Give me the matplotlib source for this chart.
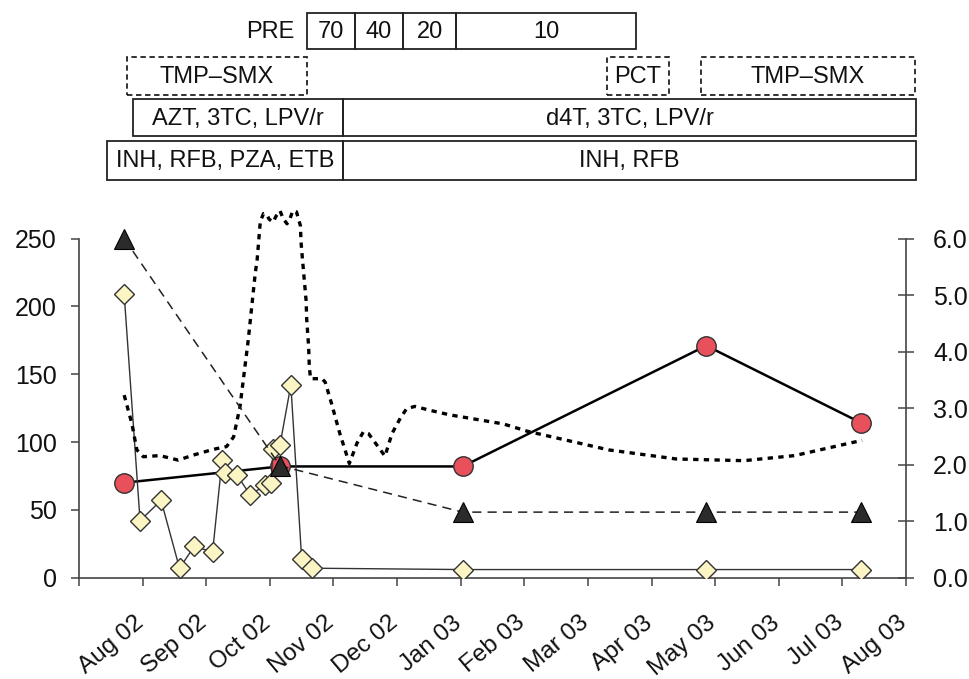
import matplotlib
matplotlib.use("Agg")
import matplotlib.pyplot as plt
from matplotlib.patches import Rectangle
from matplotlib.transforms import ScaledTranslation

plt.rcParams['font.family'] = ['Liberation Sans', 'DejaVu Sans']

W, H = 969, 679

# x positions are in months counted from 1 Jul 2002 (tick 0)
month_labels = ["Aug 02", "Sep 02", "Oct 02", "Nov 02", "Dec 02", "Jan 03", "Feb 03",
                "Mar 03", "Apr 03", "May 03", "Jun 03", "Jul 03", "Aug 03"]

# red circles, left axis
circle_x = [0.71, 3.16, 6.03, 9.86, 12.30]
circle_y = [70, 82, 82, 171, 114]

# black triangles, right axis
tri_x = [0.71, 3.16, 6.03, 9.86, 12.30]
tri_y = [6.0, 1.98, 1.16, 1.16, 1.16]

# yellow diamonds, left axis
dia_x = [0.71, 0.96, 1.29, 1.58, 1.81, 2.10, 2.25, 2.29, 2.48, 2.69, 2.92, 3.02,
         3.05, 3.16, 3.33, 3.50, 3.67, 6.03, 9.86, 12.30]
dia_y = [209, 42, 57, 7, 23, 19, 87, 77, 76, 61, 68, 70,
         95, 98, 142, 14, 7, 6, 6, 6]

# dotted curve, right axis
dot_x = [0.71, 0.83, 0.91, 1.01, 1.27, 1.56, 1.80, 2.11, 2.32, 2.43, 2.53, 2.66,
         2.77, 2.80, 2.85, 2.90, 2.95, 2.99, 3.05, 3.10, 3.16, 3.21, 3.27, 3.32,
         3.36, 3.42, 3.45, 3.48, 3.49, 3.51, 3.57, 3.58, 3.61, 3.62, 3.64, 3.71,
         3.82, 3.87, 3.97, 4.10, 4.25, 4.37, 4.47, 4.55, 4.68, 4.81, 4.92, 5.05,
         5.15, 5.28, 5.52, 5.83, 6.25, 6.67, 7.05, 8.33, 9.39, 10.45, 11.25, 12.31]
dot_y = [3.23, 2.73, 2.26, 2.14, 2.16, 2.08, 2.17, 2.27, 2.32, 2.49, 3.02, 4.20,
         5.38, 5.62, 6.30, 6.44, 6.42, 6.34, 6.29, 6.40, 6.49, 6.35, 6.26, 6.36,
         6.49, 6.47, 6.34, 6.23, 5.94, 5.67, 4.90, 4.56, 4.08, 3.73, 3.52, 3.52,
         3.52, 3.46, 3.08, 2.55, 2.02, 2.38, 2.58, 2.55, 2.35, 2.15, 2.55, 2.82,
         2.99, 3.03, 2.96, 2.88, 2.80, 2.72, 2.59, 2.26, 2.10, 2.07, 2.16, 2.43]

# treatment bars above the chart
pre_label = "PRE"
pre_doses = ["70", "40", "20", "10"]
dashed_drugs = ["TMP–SMX", "PCT", "TMP–SMX"]
art_drugs = ["AZT, 3TC, LPV/r", "d4T, 3TC, LPV/r"]
tb_drugs = ["INH, RFB, PZA, ETB", "INH, RFB"]

fig = plt.figure(figsize=(W / 100, H / 100), dpi=100)
ax = fig.add_axes([79 / W, 1 - 577.7 / H, 827 / W, 339.2 / H])
ax2 = ax.twinx()

ax.plot(circle_x, circle_y, '-', color='black', lw=1.8, marker='o', ms=14,
        mfc='#E8505B', mec='#333333', mew=1.0, zorder=3)
ax.plot(dia_x, dia_y, '-', color='#333333', lw=1.0, marker='D', ms=10,
        mfc='#FAF5C3', mec='#333333', mew=1.0, zorder=4)
ax2.plot(dot_x, dot_y, color='black', lw=2.4, linestyle=(0, (1.6, 1.6)),
         clip_on=False, zorder=2)
ax2.plot(tri_x, tri_y, color='#222222', lw=1.1, linestyle=(0, (6, 4)),
         marker='^', ms=14, mfc='#2b2b2b', mec='black', mew=0.8, zorder=3,
         clip_on=False)

ax.set_xlim(0, 13)
ax.set_ylim(0, 250)
ax2.set_ylim(0, 6)
ax.set_xticks(range(14))
ax.set_xticklabels([""] + month_labels)
ax.set_yticks(range(0, 251, 50))
ax2.set_yticks(range(0, 7))
ax2.set_yticklabels(["%.1f" % v for v in range(0, 7)])

for a in (ax, ax2):
    a.spines['top'].set_visible(False)
    for s in a.spines.values():
        s.set_color('#444444')
        s.set_linewidth(1.2)
ax.spines['right'].set_visible(False)
ax2.spines['left'].set_visible(False)
ax2.spines['bottom'].set_visible(False)

ax.tick_params(axis='y', direction='out', length=6, width=1.1, color='#444444',
               pad=10, labelsize=18, labelcolor='#111111')
ax.tick_params(axis='x', direction='out', length=5.5, width=1.1, color='#444444',
               pad=19, labelsize=17.5, labelcolor='#111111')
ax2.tick_params(axis='y', direction='inout', length=11, width=1.1, color='#444444',
                pad=14, labelsize=18, labelcolor='#111111')
off = ScaledTranslation(-9 / 100, 0, fig.dpi_scale_trans)
for lab in ax.get_xticklabels():
    lab.set_rotation(40)
    lab.set_ha('right')
    lab.set_va('top')
    lab.set_rotation_mode('anchor')
    lab.set_transform(lab.get_transform() + off)


def box(x0, x1, ytop, ybot, text, dashed=False):
    r = Rectangle((x0 / W, 1 - ybot / H), (x1 - x0) / W, (ybot - ytop) / H,
                  transform=fig.transFigure, fill=False, ec='#222222', lw=1.3,
                  linestyle=(0, (3, 2)) if dashed else '-')
    fig.patches.append(r)
    fig.text((x0 + x1) / 2 / W, 1 - ((ytop + ybot) / 2 + 1) / H, text,
             ha='center', va='center', fontsize=17, color='#111111')


fig.text(294 / W, 1 - 32 / H, pre_label, ha='right', va='center', fontsize=17,
         color='#111111')
pre_edges = [307, 355, 403, 456, 636]
for i, d in enumerate(pre_doses):
    box(pre_edges[i], pre_edges[i + 1], 13, 49, d)

for d, (x0, x1) in zip(dashed_drugs, [(127, 307), (607, 669), (701, 915)]):
    box(x0, x1, 57, 95, d, dashed=True)
for d, (x0, x1) in zip(art_drugs, [(133, 343), (343, 916)]):
    box(x0, x1, 99, 136, d)
for d, (x0, x1) in zip(tb_drugs, [(107, 343), (343, 916)]):
    box(x0, x1, 141, 180, d)

fig.savefig("out.png", dpi=100)
